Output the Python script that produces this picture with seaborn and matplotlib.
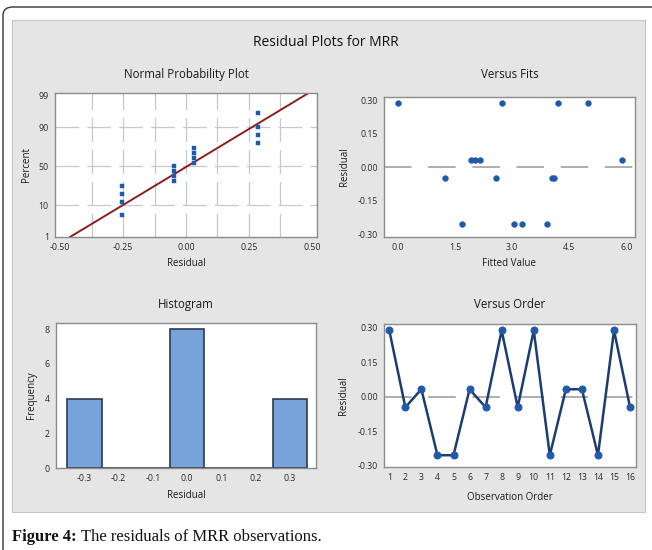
import numpy as np
import pandas as pd
import matplotlib
matplotlib.use("Agg")
import matplotlib.pyplot as plt
import seaborn as sns
from statistics import NormalDist
from matplotlib.patches import Rectangle, FancyBboxPatch

# ---------------- data ----------------
observation_order = list(range(1, 17))
residuals = [0.287, -0.046, 0.032, -0.254, -0.254, 0.032, -0.046, 0.287,
             -0.046, 0.287, -0.254, 0.032, 0.032, -0.254, 0.287, -0.046]
fitted_values = [0.00, 1.24, 1.92, 1.68, 3.05, 2.02, 2.57, 2.74,
                 4.04, 4.20, 3.26, 2.15, 5.88, 3.90, 4.99, 4.10]
normal_percent = [5.5, 12, 18.5, 26, 31, 37, 43.5, 50,
                  54, 60.5, 67, 73, 78, 85, 90, 96]
percent_ticks = [1, 10, 50, 90, 99]
npp_x_ticks = [-0.50, -0.25, 0.00, 0.25, 0.50]
fits_x_ticks = [0.0, 1.5, 3.0, 4.5, 6.0]
resid_ticks = [-0.30, -0.15, 0.00, 0.15, 0.30]
hist_ticks = [-0.3, -0.2, -0.1, 0.0, 0.1, 0.2, 0.3]
freq_ticks = [0, 2, 4, 6, 8]

# ---------------- style ----------------
sns.set_style("white")
plt.rcParams["font.family"] = ["Open Sans", "DejaVu Sans"]

W, H = 652, 550
BLUE = "#1F5BAA"
NAVY = "#1C3D72"
SPINE = "#8C8C8C"
TXT = "#1A1A1A"
TICKFS = 6.3
LABFS = 7
TITFS = 8.3

fig = plt.figure(figsize=(W / 100, H / 100), dpi=100)
fig.patch.set_facecolor("white")


def rect(x0, y0, x1, y1):
    return [x0 / W, 1 - y1 / H, (x1 - x0) / W, (y1 - y0) / H]


# outer rounded frame and grey panel (drawn beneath the axes)
fig.patches.append(FancyBboxPatch((3 / W, -0.2), 1.2, 1 - 7 / H + 0.2,
                                  boxstyle="round,pad=0,rounding_size=0.015",
                                  transform=fig.transFigure, fill=False,
                                  edgecolor="#333333", linewidth=1.0, zorder=-2))
fig.patches.append(Rectangle((12 / W, 1 - 512 / H), (645 - 12) / W, (512 - 20) / H,
                             transform=fig.transFigure, facecolor="#E5E5E5",
                             edgecolor="#C4C4C4", linewidth=0.8, zorder=-1))

fig.text(326 / W, 1 - 43 / H, "Residual Plots for MRR", ha="center", va="center",
         fontsize=10, color="#111111")


def style_axes(ax, title, pad_px, xlabel, ylabel, xl_y, yl_x):
    ax.set_facecolor("white")
    for s in ax.spines.values():
        s.set_color(SPINE)
        s.set_linewidth(1.0)
        s.set_visible(True)
    ax.tick_params(axis="both", labelsize=TICKFS, colors="#2A2A2A", length=2,
                   width=0.6, pad=2.5, direction="out")
    ax.set_title(title, fontsize=TITFS, color=TXT, pad=pad_px * 0.72)
    ax.set_xlabel(xlabel, fontsize=LABFS, color=TXT)
    ax.set_ylabel(ylabel, fontsize=LABFS, color=TXT)
    ax.xaxis.set_label_coords(0.5, xl_y)
    ax.yaxis.set_label_coords(yl_x, 0.5)


nd = NormalDist()
gdash = (0, (19, 6.5))
zdash = (0, (16.5, 10))

# ---------------- Normal probability plot ----------------
ax1 = fig.add_axes(rect(55, 93, 317, 237))
npp = pd.DataFrame({"res": sorted(residuals),
                    "z": [nd.inv_cdf(p / 100) for p in normal_percent]})
for gx in np.arange(-0.375, 0.376, 0.125):
    ax1.axvline(gx, color="#C8C8C8", lw=0.9, ls=gdash, zorder=0)
for p in [10, 50, 90]:
    ax1.axhline(nd.inv_cdf(p / 100), color="#C8C8C8", lw=0.9, ls=gdash, zorder=0)
mu = float(np.mean(residuals))
sd = float(np.std(residuals, ddof=1))
z_lo, z_hi = nd.inv_cdf(0.01), 2.41
zl = np.array([z_lo, z_hi])
sns.lineplot(x=mu + sd * zl, y=zl, ax=ax1, color="#8B1E1E", lw=1.4, zorder=2)
sns.scatterplot(data=npp, x="res", y="z", ax=ax1, marker="s", s=9,
                color=BLUE, edgecolor=BLUE, linewidth=0.3, zorder=3)
ax1.set_xlim(-0.52, 0.52)
ax1.set_ylim(z_lo, z_hi)
ax1.set_xticks(npp_x_ticks)
ax1.set_xticklabels([f"{v:.2f}" for v in npp_x_ticks])
ax1.set_yticks([nd.inv_cdf(p / 100) for p in percent_ticks])
ax1.set_yticklabels([str(p) for p in percent_ticks])
style_axes(ax1, "Normal Probability Plot", 15, "Residual", "Percent", -0.146, -0.086)

# ---------------- Versus fits ----------------
ax2 = fig.add_axes(rect(384, 97, 635, 237))
ax2.axhline(0, color="#A0A0A0", lw=1.2, ls=zdash, zorder=1)
sns.scatterplot(x=fitted_values, y=residuals, ax=ax2, marker="o", s=18,
                color=BLUE, edgecolor=BLUE, linewidth=0.3, zorder=3)
ax2.set_xlim(-0.36, 6.22)
ax2.set_ylim(-0.312, 0.315)
ax2.set_xticks(fits_x_ticks)
ax2.set_xticklabels([f"{v:.1f}" for v in fits_x_ticks])
ax2.set_yticks(resid_ticks)
ax2.set_yticklabels([f"{v:.2f}" for v in resid_ticks])
style_axes(ax2, "Versus Fits", 19, "Fitted Value", "Residual", -0.149, -0.137)

# ---------------- Histogram ----------------
ax3 = fig.add_axes(rect(56, 323, 316, 468))
sns.histplot(x=residuals, binwidth=0.1, binrange=(-0.35, 0.35), ax=ax3,
             color="#77A3DA", edgecolor="#2E3B4E", linewidth=1.2, alpha=1.0)
ax3.set_xlim(-0.383, 0.376)
ax3.set_ylim(0, 8.35)
ax3.set_xticks(hist_ticks)
ax3.set_xticklabels([f"{v:.1f}" for v in hist_ticks])
ax3.set_yticks(freq_ticks)
style_axes(ax3, "Histogram", 15, "Residual", "Frequency", -0.152, -0.075)

# ---------------- Versus order ----------------
ax4 = fig.add_axes(rect(384, 324, 636, 467))
ax4.axhline(0, color="#A0A0A0", lw=1.2, ls=zdash, zorder=1)
sns.lineplot(x=observation_order, y=residuals, ax=ax4, color=NAVY, lw=1.8,
             marker="o", markersize=5, markerfacecolor=BLUE,
             markeredgecolor=BLUE, zorder=3)
ax4.set_xlim(0.67, 16.37)
ax4.set_ylim(-0.305, 0.315)
ax4.set_xticks(observation_order)
ax4.set_yticks(resid_ticks)
ax4.set_yticklabels([f"{v:.2f}" for v in resid_ticks])
style_axes(ax4, "Versus Order", 16, "Observation Order", "Residual", -0.175, -0.137)

# ---------------- caption ----------------
renderer = fig.canvas.get_renderer()
t1 = fig.text(12 / W, 1 - 537 / H, "Figure 4:", ha="left", va="center",
              fontsize=12, fontweight="bold", family=["Liberation Serif", "DejaVu Serif"],
              color="#111111")
bb = t1.get_window_extent(renderer)
fig.text((bb.x1 + 4) / W, 1 - 537 / H, "The residuals of MRR observations.",
         ha="left", va="center", fontsize=12,
         family=["Liberation Serif", "DejaVu Serif"], color="#111111")

fig.savefig("out.png", dpi=100)
